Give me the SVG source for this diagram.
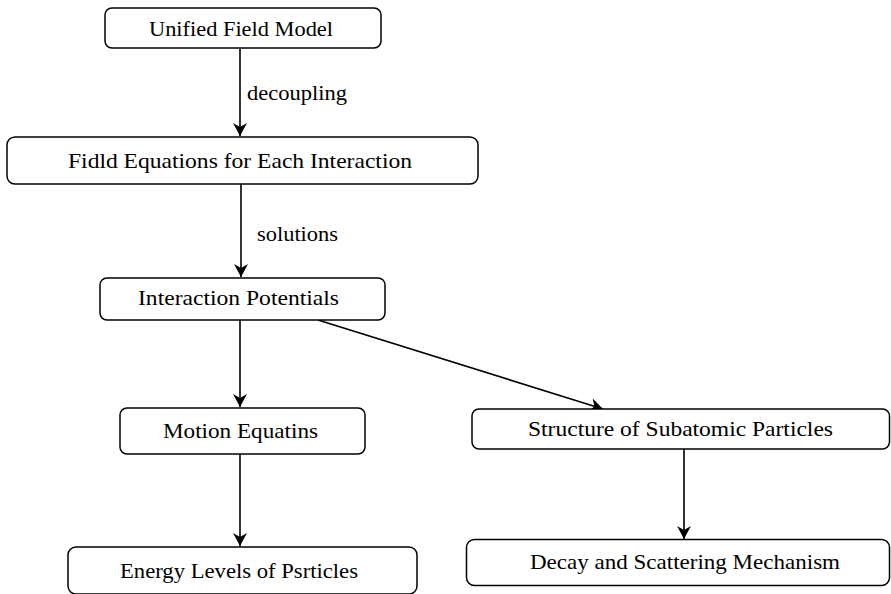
<svg xmlns="http://www.w3.org/2000/svg" width="891" height="594" viewBox="0 0 891 594">
<style>
.box{fill:#fff;stroke:#000;stroke-width:1.5}
.lbl{font-family:"Liberation Serif","Times New Roman",serif;font-size:21.5px;fill:#000;text-anchor:middle}
.elbl{font-family:"Liberation Serif","Times New Roman",serif;font-size:21.5px;fill:#000}
.edge{stroke:#000;stroke-width:1.6;fill:none;marker-end:url(#arr)}
</style>
<defs>
<marker id="arr" markerUnits="userSpaceOnUse" markerWidth="16" markerHeight="16" viewBox="-14 -8 16 16" refX="0" refY="0" orient="auto">
<path d="M0,0 L-13,-7 L-9,0 L-13,7 Z" fill="#000"/>
</marker>
</defs>
<rect width="891" height="594" fill="#fff"/>
<g id="connectors">
<line class="edge" x1="240" y1="49" x2="240" y2="136"/>
<line class="edge" x1="241" y1="184" x2="241" y2="277"/>
<line class="edge" x1="240" y1="320" x2="240" y2="407"/>
<line class="edge" x1="318" y1="320" x2="603" y2="409"/>
<line class="edge" x1="240" y1="454" x2="240" y2="546"/>
<line class="edge" x1="684" y1="449" x2="684" y2="539"/>
<text class="elbl" x="247" y="100" textLength="100" lengthAdjust="spacingAndGlyphs">decoupling</text>
<text class="elbl" x="257" y="241" textLength="81" lengthAdjust="spacingAndGlyphs">solutions</text>
</g>
<g id="n1">
<rect class="box" x="105" y="8" width="276" height="40" rx="7"/>
<text class="lbl" x="241" y="35.5" textLength="184" lengthAdjust="spacingAndGlyphs">Unified Field Model</text>
</g>
<g id="n2">
<rect class="box" x="7" y="137" width="471" height="47" rx="8"/>
<text class="lbl" x="240" y="168" textLength="344" lengthAdjust="spacingAndGlyphs">Fidld Equations for Each Interaction</text>
</g>
<g id="n3">
<rect class="box" x="100" y="278" width="285" height="42" rx="7"/>
<text class="lbl" x="238.5" y="305" textLength="201" lengthAdjust="spacingAndGlyphs">Interaction Potentials</text>
</g>
<g id="n4">
<rect class="box" x="120" y="408" width="245" height="46" rx="7"/>
<text class="lbl" x="240.5" y="437.5" textLength="155" lengthAdjust="spacingAndGlyphs">Motion Equatins</text>
</g>
<g id="n5">
<rect class="box" x="472" y="409" width="417.5" height="40" rx="7"/>
<text class="lbl" x="680.5" y="436" textLength="305" lengthAdjust="spacingAndGlyphs">Structure of Subatomic Particles</text>
</g>
<g id="n6">
<rect class="box" x="68" y="547" width="349" height="47" rx="8"/>
<text class="lbl" x="239" y="578" textLength="238" lengthAdjust="spacingAndGlyphs">Energy Levels of Psrticles</text>
</g>
<g id="n7">
<rect class="box" x="466.5" y="539.5" width="423" height="46" rx="8"/>
<text class="lbl" x="685" y="569" textLength="310" lengthAdjust="spacingAndGlyphs">Decay and Scattering Mechanism</text>
</g>
</svg>
